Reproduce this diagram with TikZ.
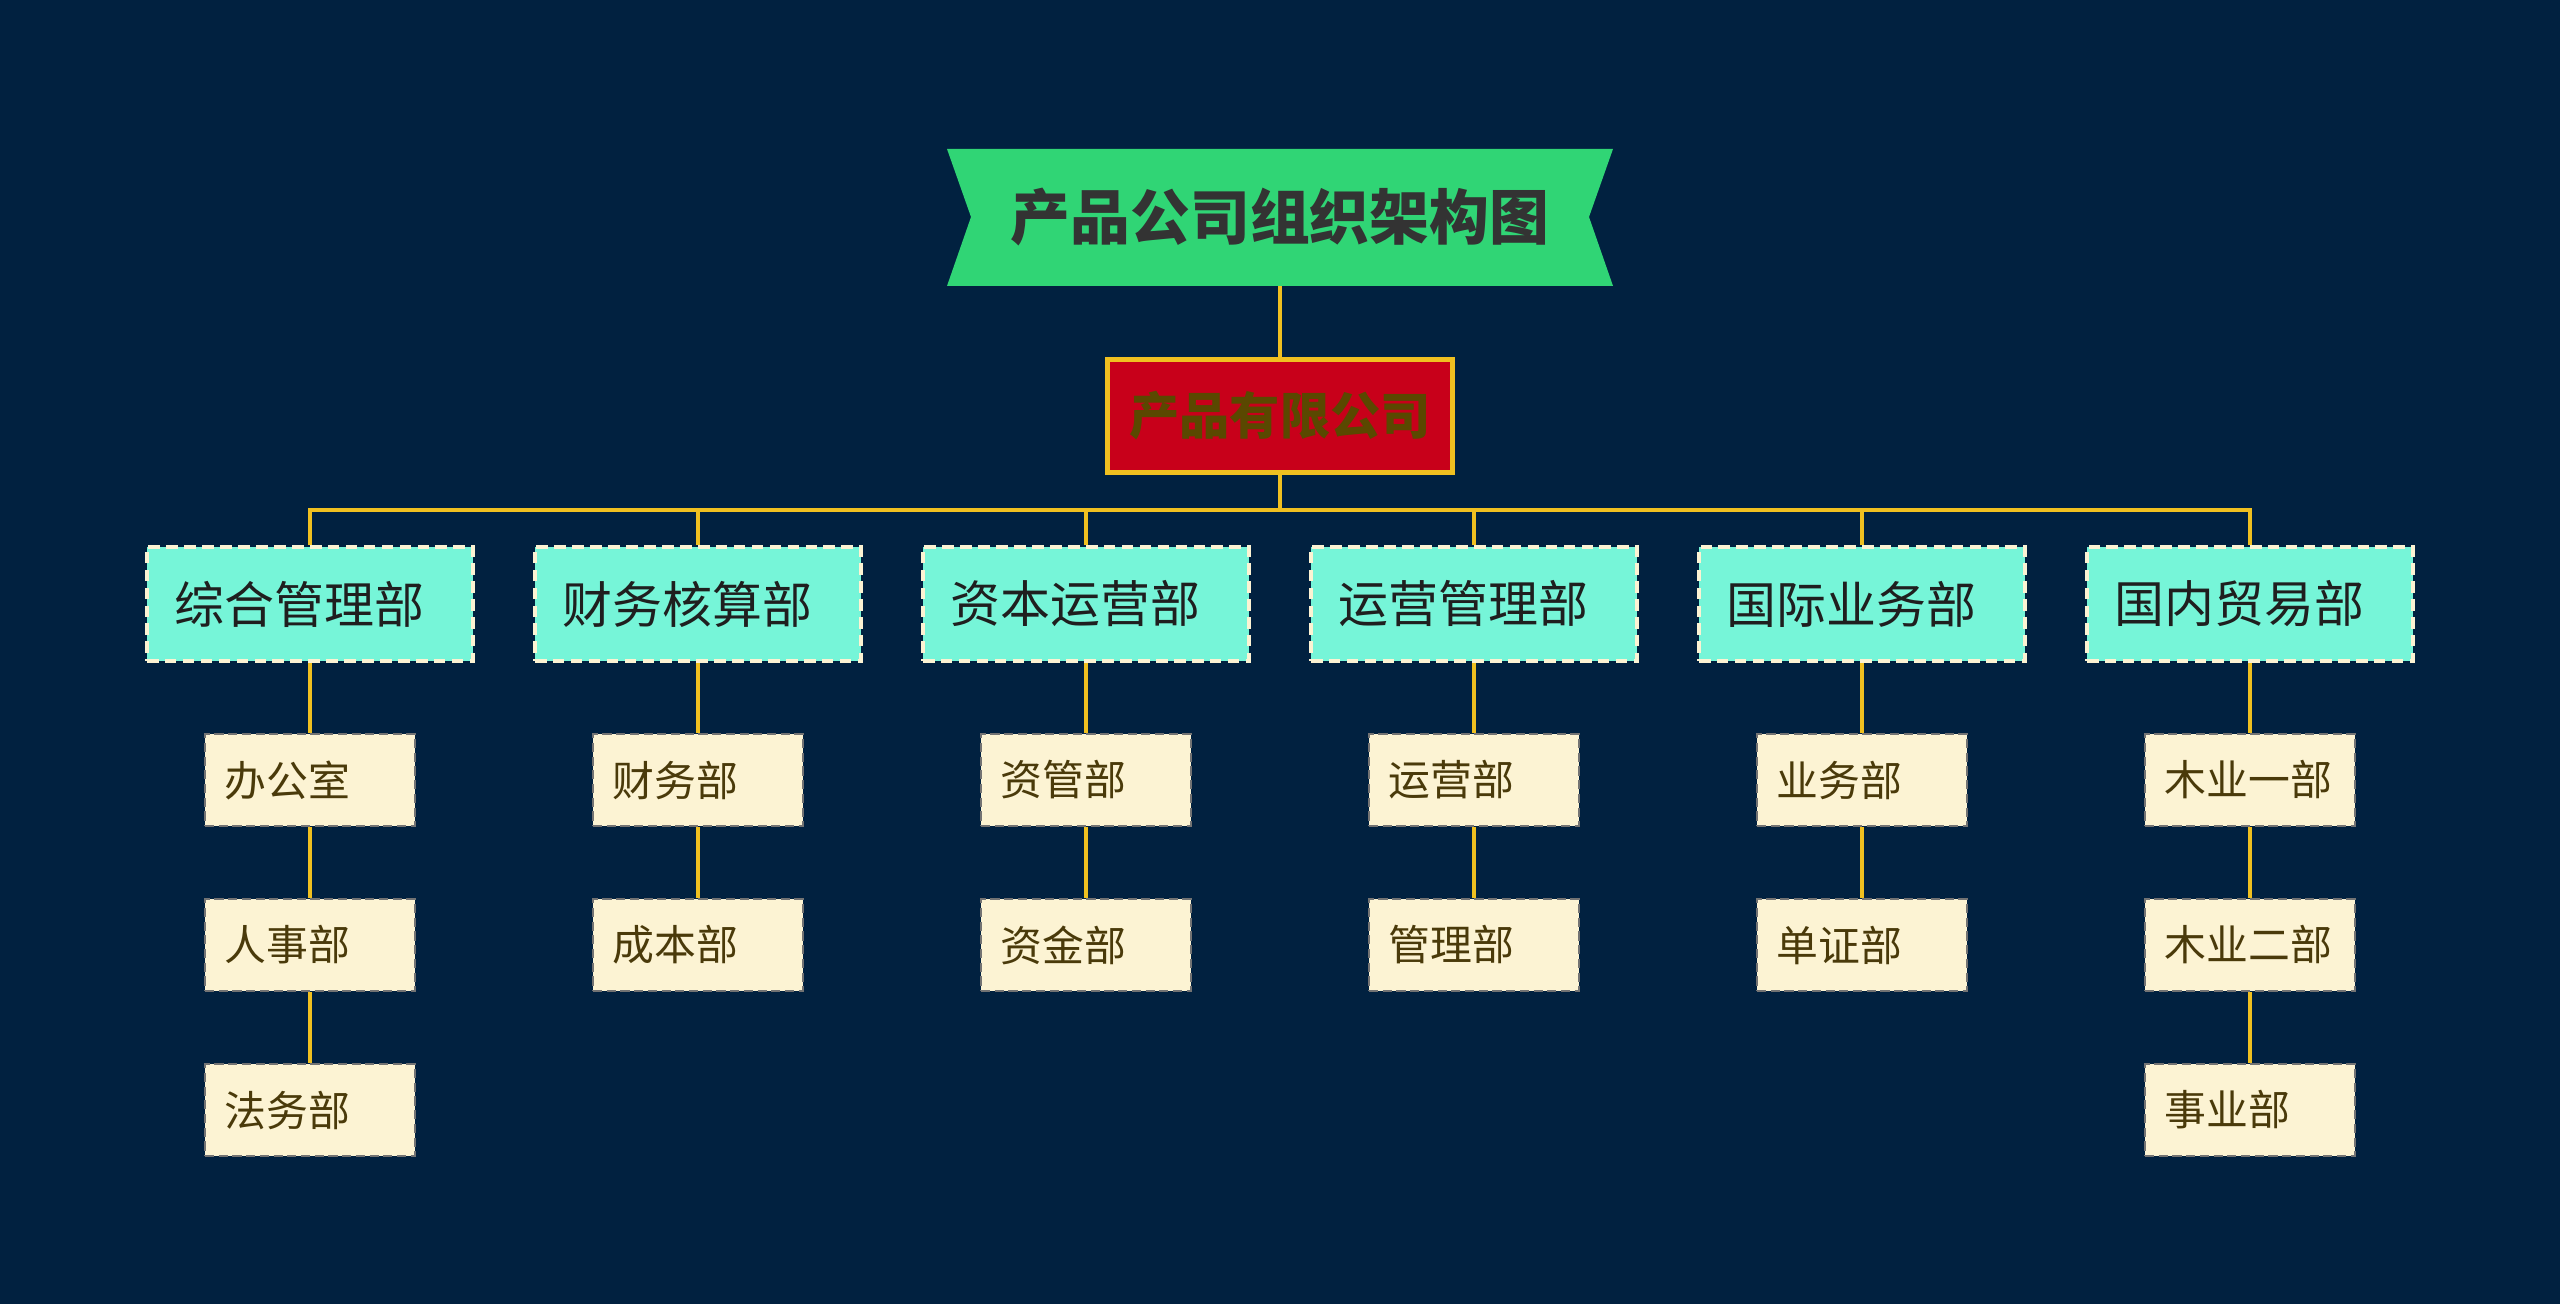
\documentclass[tikz,border=0pt]{standalone}
\usepackage{fontspec}
\setmainfont{Noto Sans CJK SC}
\usepackage{tikz}
\usetikzlibrary{calc}

\definecolor{bgnavy}{RGB}{1,33,64}
\definecolor{bannergreen}{RGB}{48,213,117}
\definecolor{corpred}{RGB}{200,0,26}
\definecolor{gold}{RGB}{240,192,32}
\definecolor{aqua}{RGB}{118,245,216}
\definecolor{cream}{RGB}{252,243,211}
\definecolor{subtext}{RGB}{74,58,10}
\definecolor{corptext}{RGB}{90,72,0}

\begin{document}
\begin{tikzpicture}[
  x=0.01cm, y=-0.01cm,
  banner/.style={minimum width=66.6mm, minimum height=13.7mm, inner sep=0pt,
                 font=\fontsize{17}{20}\selectfont\bfseries, text=black!80},
  corp/.style={rectangle, draw=gold, line width=1.45pt, fill=corpred,
               minimum width=34.4mm, minimum height=11.3mm,
               font=\fontsize{14.3}{17}\selectfont\bfseries, text=corptext},
  dept/.style={rectangle, draw=cream, line width=1.15pt, dash pattern=on 3.3pt off 1.8pt,
               fill=aqua, text width=27mm, inner xsep=2.8mm, inner ysep=0pt,
               minimum height=11.4mm, align=left,
               font=\fontsize{14.2}{17}\selectfont, text=black!88},
  sub/.style={rectangle, draw=black!55, line width=0.8pt, dash pattern=on 2.6pt off 1.3pt,
              fill=cream, text width=17mm, inner xsep=2mm, inner ysep=0pt,
              minimum height=9.2mm, align=left,
              font=\fontsize{11.9}{14}\selectfont, text=subtext},
  link/.style={draw=gold, line width=1.2pt}
]
\useasboundingbox (0,0) rectangle (2560,1304);
\fill[bgnavy] (0,0) rectangle (2560,1304);

% Title banner
\fill[bannergreen] (947,149) -- (1613,149) -- (1589,217) -- (1613,286)
  -- (947,286) -- (971,217) -- cycle;
\node[banner] at (1280,217) (title) {产品公司组织架构图};

% Company
\node[corp] at (1280,416) (corp) {产品有限公司};
\coordinate (bus) at (1280,510);

% Departments (y=604)
\node[dept] at (310,604)  (zh) {综合管理部};
\node[dept] at (698,604)  (cw) {财务核算部};
\node[dept] at (1086,604) (zb) {资本运营部};
\node[dept] at (1474,604) (yy) {运营管理部};
\node[dept] at (1862,604) (gj) {国际业务部};
\node[dept] at (2250,604) (gn) {国内贸易部};

% Sections — row 1 (y=780)
\node[sub] at (310,780)  (zh1) {办公室};
\node[sub] at (698,780)  (cw1) {财务部};
\node[sub] at (1086,780) (zb1) {资管部};
\node[sub] at (1474,780) (yy1) {运营部};
\node[sub] at (1862,780) (gj1) {业务部};
\node[sub] at (2250,780) (gn1) {木业一部};

% Sections — row 2 (y=945)
\node[sub] at (310,945)  (zh2) {人事部};
\node[sub] at (698,945)  (cw2) {成本部};
\node[sub] at (1086,945) (zb2) {资金部};
\node[sub] at (1474,945) (yy2) {管理部};
\node[sub] at (1862,945) (gj2) {单证部};
\node[sub] at (2250,945) (gn2) {木业二部};

% Sections — row 3 (y=1110)
\node[sub] at (310,1110)  (zh3) {法务部};
\node[sub] at (2250,1110) (gn3) {事业部};

% Links
\draw[link] (title) -- (corp);
\draw[link] (corp) -- (bus);
\draw[link] (zh.north) |- (bus);
\draw[link] (cw.north) |- (bus);
\draw[link] (zb.north) |- (bus);
\draw[link] (yy.north) |- (bus);
\draw[link] (gj.north) |- (bus);
\draw[link] (gn.north) |- (bus);

\draw[link] (zh) -- (zh1);
\draw[link] (zh1) -- (zh2);
\draw[link] (zh2) -- (zh3);
\draw[link] (cw) -- (cw1);
\draw[link] (cw1) -- (cw2);
\draw[link] (zb) -- (zb1);
\draw[link] (zb1) -- (zb2);
\draw[link] (yy) -- (yy1);
\draw[link] (yy1) -- (yy2);
\draw[link] (gj) -- (gj1);
\draw[link] (gj1) -- (gj2);
\draw[link] (gn) -- (gn1);
\draw[link] (gn1) -- (gn2);
\draw[link] (gn2) -- (gn3);
\end{tikzpicture}
\end{document}
